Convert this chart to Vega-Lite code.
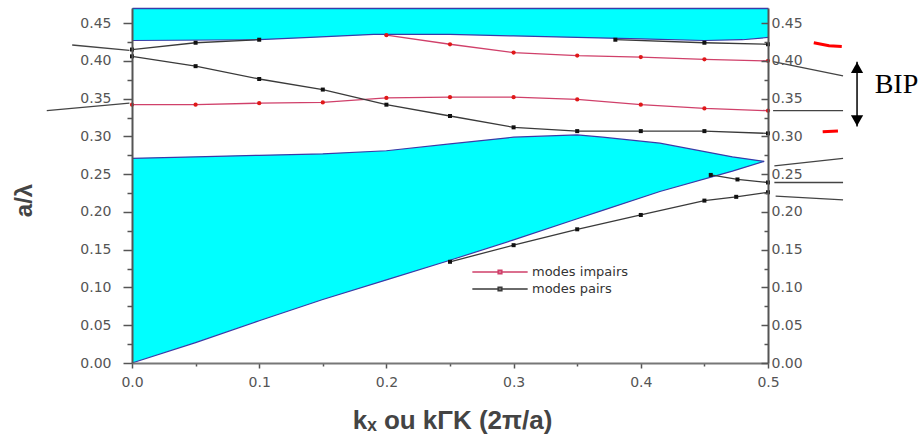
{
  "$schema": "https://vega.github.io/schema/vega-lite/v6.json",
  "width": 636,
  "height": 355,
  "autosize": {"type": "none"},
  "padding": {"left": 132, "top": 8, "right": 156, "bottom": 72},
  "background": "white",
  "config": {"view": {"stroke": null}},
  "datasets": {
    "bande_basse": [
      {"k": 0, "lo": 0, "hi": 0.271},
      {"k": 0.05, "lo": 0.027, "hi": 0.273},
      {"k": 0.1, "lo": 0.056, "hi": 0.275},
      {"k": 0.15, "lo": 0.084, "hi": 0.277},
      {"k": 0.2, "lo": 0.110, "hi": 0.281},
      {"k": 0.25, "lo": 0.136, "hi": 0.290},
      {"k": 0.3, "lo": 0.163, "hi": 0.299},
      {"k": 0.35, "lo": 0.191, "hi": 0.302},
      {"k": 0.37, "lo": 0.202, "hi": 0.299},
      {"k": 0.415, "lo": 0.227, "hi": 0.291},
      {"k": 0.472, "lo": 0.254, "hi": 0.273},
      {"k": 0.497, "lo": 0.267, "hi": 0.267}
    ],
    "bande_haute": [
      {"k": 0, "lo": 0.427},
      {"k": 0.1, "lo": 0.428},
      {"k": 0.14, "lo": 0.431},
      {"k": 0.19, "lo": 0.435},
      {"k": 0.25, "lo": 0.435},
      {"k": 0.3, "lo": 0.433},
      {"k": 0.35, "lo": 0.431},
      {"k": 0.4, "lo": 0.429},
      {"k": 0.45, "lo": 0.427},
      {"k": 0.48, "lo": 0.428},
      {"k": 0.5, "lo": 0.431}
    ],
    "modes": [
      {"branche": "i1", "type": "modes impairs", "k": 0, "f": 0.342},
      {"branche": "i1", "type": "modes impairs", "k": 0.05, "f": 0.342},
      {"branche": "i1", "type": "modes impairs", "k": 0.1, "f": 0.344},
      {"branche": "i1", "type": "modes impairs", "k": 0.15, "f": 0.345},
      {"branche": "i1", "type": "modes impairs", "k": 0.2, "f": 0.351},
      {"branche": "i1", "type": "modes impairs", "k": 0.25, "f": 0.352},
      {"branche": "i1", "type": "modes impairs", "k": 0.3, "f": 0.352},
      {"branche": "i1", "type": "modes impairs", "k": 0.35, "f": 0.349},
      {"branche": "i1", "type": "modes impairs", "k": 0.4, "f": 0.342},
      {"branche": "i1", "type": "modes impairs", "k": 0.45, "f": 0.337},
      {"branche": "i1", "type": "modes impairs", "k": 0.5, "f": 0.334},
      {"branche": "i2", "type": "modes impairs", "k": 0.2, "f": 0.434},
      {"branche": "i2", "type": "modes impairs", "k": 0.25, "f": 0.422},
      {"branche": "i2", "type": "modes impairs", "k": 0.3, "f": 0.411},
      {"branche": "i2", "type": "modes impairs", "k": 0.35, "f": 0.407},
      {"branche": "i2", "type": "modes impairs", "k": 0.4, "f": 0.405},
      {"branche": "i2", "type": "modes impairs", "k": 0.45, "f": 0.402},
      {"branche": "i2", "type": "modes impairs", "k": 0.5, "f": 0.400},
      {"branche": "p1", "type": "modes pairs", "k": 0, "f": 0.406},
      {"branche": "p1", "type": "modes pairs", "k": 0.05, "f": 0.393},
      {"branche": "p1", "type": "modes pairs", "k": 0.1, "f": 0.376},
      {"branche": "p1", "type": "modes pairs", "k": 0.15, "f": 0.362},
      {"branche": "p1", "type": "modes pairs", "k": 0.2, "f": 0.342},
      {"branche": "p1", "type": "modes pairs", "k": 0.25, "f": 0.327},
      {"branche": "p1", "type": "modes pairs", "k": 0.3, "f": 0.312},
      {"branche": "p1", "type": "modes pairs", "k": 0.35, "f": 0.307},
      {"branche": "p1", "type": "modes pairs", "k": 0.4, "f": 0.307},
      {"branche": "p1", "type": "modes pairs", "k": 0.45, "f": 0.307},
      {"branche": "p1", "type": "modes pairs", "k": 0.5, "f": 0.304},
      {"branche": "p2", "type": "modes pairs", "k": 0, "f": 0.415},
      {"branche": "p2", "type": "modes pairs", "k": 0.05, "f": 0.424},
      {"branche": "p2", "type": "modes pairs", "k": 0.1, "f": 0.428},
      {"branche": "p3", "type": "modes pairs", "k": 0.38, "f": 0.428},
      {"branche": "p3", "type": "modes pairs", "k": 0.45, "f": 0.424},
      {"branche": "p3", "type": "modes pairs", "k": 0.5, "f": 0.422},
      {"branche": "p4", "type": "modes pairs", "k": 0.25, "f": 0.134},
      {"branche": "p4", "type": "modes pairs", "k": 0.3, "f": 0.156},
      {"branche": "p4", "type": "modes pairs", "k": 0.35, "f": 0.177},
      {"branche": "p4", "type": "modes pairs", "k": 0.4, "f": 0.196},
      {"branche": "p4", "type": "modes pairs", "k": 0.45, "f": 0.215},
      {"branche": "p4", "type": "modes pairs", "k": 0.475, "f": 0.220},
      {"branche": "p4", "type": "modes pairs", "k": 0.5, "f": 0.226},
      {"branche": "p5", "type": "modes pairs", "k": 0.455, "f": 0.249},
      {"branche": "p5", "type": "modes pairs", "k": 0.476, "f": 0.243},
      {"branche": "p5", "type": "modes pairs", "k": 0.5, "f": 0.239}
    ],
    "prolongements": [
      {"seg": "g1", "type": "modes pairs", "k": -0.047, "f": 0.421},
      {"seg": "g1", "type": "modes pairs", "k": -0.002, "f": 0.414},
      {"seg": "g2", "type": "modes pairs", "k": -0.067, "f": 0.334},
      {"seg": "g2", "type": "modes pairs", "k": -0.002, "f": 0.344},
      {"seg": "d1", "type": "modes pairs", "k": 0.504, "f": 0.399},
      {"seg": "d1", "type": "modes pairs", "k": 0.559, "f": 0.380},
      {"seg": "d2", "type": "modes pairs", "k": 0.504, "f": 0.334},
      {"seg": "d2", "type": "modes pairs", "k": 0.559, "f": 0.334},
      {"seg": "d3", "type": "modes pairs", "k": 0.505, "f": 0.261},
      {"seg": "d3", "type": "modes pairs", "k": 0.559, "f": 0.271},
      {"seg": "d4", "type": "modes pairs", "k": 0.505, "f": 0.239},
      {"seg": "d4", "type": "modes pairs", "k": 0.559, "f": 0.239},
      {"seg": "d5", "type": "modes pairs", "k": 0.506, "f": 0.221},
      {"seg": "d5", "type": "modes pairs", "k": 0.559, "f": 0.216},
      {"seg": "r1", "type": "modes impairs", "k": 0.536, "f": 0.424},
      {"seg": "r1", "type": "modes impairs", "k": 0.548, "f": 0.420},
      {"seg": "r1", "type": "modes impairs", "k": 0.558, "f": 0.419},
      {"seg": "r2", "type": "modes impairs", "k": 0.543, "f": 0.306},
      {"seg": "r2", "type": "modes impairs", "k": 0.555, "f": 0.307}
    ],
    "bip": [
      {"k": 0.570, "f_haut": 0.399, "f_bas": 0.313, "k_texte": 0.601, "f_texte": 0.368, "texte": "BIP"}
    ]
  },
  "resolve": {"axis": {"x": "independent", "y": "independent"}},
  "layer": [
    {
      "data": {"name": "bande_basse"},
      "mark": {"type": "area", "color": "#00ffff", "opacity": 1},
      "encoding": {
        "x": {
          "field": "k", "type": "quantitative",
          "scale": {"domain": [0, 0.5], "nice": false, "zero": false},
          "axis": {
            "orient": "bottom", "zindex": 1,
            "values": [0, 0.05, 0.1, 0.15, 0.2, 0.25, 0.3, 0.35, 0.4, 0.45, 0.5],
            "labelExpr": "abs(datum.value*10 - round(datum.value*10)) < 0.001 ? format(datum.value, '.1f') : ''",
            "tickSize": {"condition": {"test": "abs(datum.value*10 - round(datum.value*10)) < 0.001", "value": 5}, "value": 3},
            "tickColor": "#555", "tickWidth": 1.5,
            "domainColor": "#777", "domainWidth": 2,
            "labelFont": "DejaVu Sans", "labelFontSize": 14, "labelColor": "#555", "labelPadding": 7,
            "labelFlush": false, "labelOverlap": false,
            "grid": false,
            "title": "kₓ ou kΓK (2π/a)",
            "titleFont": "Liberation Sans", "titleFontSize": 26, "titleFontWeight": "bold", "titleColor": "#444",
            "titleX": 320, "titleY": 65, "titleAlign": "center", "titleBaseline": "alphabetic"
          }
        },
        "y": {
          "field": "lo", "type": "quantitative",
          "scale": {"domain": [0, 0.47], "nice": false, "zero": false},
          "axis": {
            "orient": "left", "zindex": 1,
            "values": [0, 0.025, 0.05, 0.075, 0.1, 0.125, 0.15, 0.175, 0.2, 0.225, 0.25, 0.275, 0.3, 0.325, 0.35, 0.375, 0.4, 0.425, 0.45],
            "labelExpr": "abs(datum.value*20 - round(datum.value*20)) < 0.001 ? format(datum.value, '.2f') : ''",
            "tickSize": {"condition": {"test": "abs(datum.value*20 - round(datum.value*20)) < 0.001", "value": 9}, "value": 5},
            "tickColor": "#555", "tickWidth": 1.5,
            "domainColor": "#555", "domainWidth": 2,
            "labelFont": "DejaVu Sans", "labelFontSize": 14, "labelColor": "#555", "labelPadding": 12,
            "labelFlush": false, "labelOverlap": false,
            "grid": false,
            "title": "a/λ",
            "titleFont": "Liberation Sans", "titleFontSize": 24, "titleFontWeight": "bold", "titleColor": "#444",
            "titleX": -108, "titleY": 192, "titleAlign": "center", "titleBaseline": "middle", "titleAngle": -90
          }
        },
        "y2": {"field": "hi"}
      }
    },
    {
      "data": {"name": "bande_haute"},
      "mark": {"type": "area", "color": "#00ffff", "opacity": 1},
      "encoding": {
        "x": {
          "field": "k", "type": "quantitative",
          "scale": {"domain": [0, 0.5], "nice": false, "zero": false},
          "axis": {"orient": "top", "zindex": 1, "ticks": false, "labels": false, "title": null, "grid": false, "domainColor": "#3a3aa8", "domainWidth": 1.5}
        },
        "y": {
          "field": "lo", "type": "quantitative",
          "scale": {"domain": [0, 0.47], "nice": false, "zero": false},
          "axis": {
            "orient": "right", "zindex": 1,
            "values": [0, 0.025, 0.05, 0.075, 0.1, 0.125, 0.15, 0.175, 0.2, 0.225, 0.25, 0.275, 0.3, 0.325, 0.35, 0.375, 0.4, 0.425, 0.45],
            "labelExpr": "abs(datum.value*20 - round(datum.value*20)) < 0.001 ? format(datum.value, '.2f') : ''",
            "tickSize": {"condition": {"test": "abs(datum.value*20 - round(datum.value*20)) < 0.001", "value": -7}, "value": -4},
            "tickColor": "#555", "tickWidth": 1.5,
            "domainColor": "#555", "domainWidth": 2,
            "labelFont": "DejaVu Sans", "labelFontSize": 14, "labelColor": "#555", "labelPadding": 10,
            "labelFlush": false, "labelOverlap": false,
            "grid": false, "title": null
          }
        },
        "y2": {"datum": 0.47}
      }
    },
    {
      "data": {"name": "bande_basse"},
      "mark": {"type": "line", "color": "#3a3aa8", "strokeWidth": 1.2},
      "encoding": {
        "x": {"field": "k", "type": "quantitative", "axis": null},
        "y": {"field": "lo", "type": "quantitative", "axis": null}
      }
    },
    {
      "data": {"name": "bande_basse"},
      "mark": {"type": "line", "color": "#3a3aa8", "strokeWidth": 1.2},
      "encoding": {
        "x": {"field": "k", "type": "quantitative", "axis": null},
        "y": {"field": "hi", "type": "quantitative", "axis": null}
      }
    },
    {
      "data": {"name": "bande_haute"},
      "mark": {"type": "line", "color": "#3a3aa8", "strokeWidth": 1.2},
      "encoding": {
        "x": {"field": "k", "type": "quantitative", "axis": null},
        "y": {"field": "lo", "type": "quantitative", "axis": null}
      }
    },
    {
      "data": {"name": "modes"},
      "mark": {"type": "line", "strokeWidth": 1.3},
      "encoding": {
        "x": {"field": "k", "type": "quantitative", "axis": null},
        "y": {"field": "f", "type": "quantitative", "axis": null},
        "detail": {"field": "branche"},
        "color": {
          "field": "type", "type": "nominal",
          "scale": {"domain": ["modes impairs", "modes pairs"], "range": ["#d0406a", "#3a3a3a"]},
          "legend": {
            "orient": "none", "legendX": 358, "legendY": 254,
            "title": null, "padding": 0, "rowPadding": 0,
            "symbolType": "M-3,0H3M-0.2,-0.2H0.2V0.2H-0.2Z",
            "symbolSize": 340, "symbolStrokeWidth": 1.5,
            "labelFont": "DejaVu Sans", "labelFontSize": 13, "labelColor": "#333", "labelOffset": 22
          }
        }
      }
    },
    {
      "data": {"name": "modes"},
      "transform": [{"filter": "datum.type == 'modes impairs'"}],
      "mark": {"type": "point", "shape": "circle", "filled": true, "color": "#e01818", "size": 18, "opacity": 1},
      "encoding": {
        "x": {"field": "k", "type": "quantitative", "axis": null},
        "y": {"field": "f", "type": "quantitative", "axis": null}
      }
    },
    {
      "data": {"name": "modes"},
      "transform": [{"filter": "datum.type == 'modes pairs'"}],
      "mark": {"type": "point", "shape": "square", "filled": true, "color": "#111111", "size": 16, "opacity": 1},
      "encoding": {
        "x": {"field": "k", "type": "quantitative", "axis": null},
        "y": {"field": "f", "type": "quantitative", "axis": null}
      }
    },
    {
      "data": {"name": "prolongements"},
      "transform": [{"filter": "datum.type == 'modes pairs'"}],
      "mark": {"type": "line", "color": "#444444", "strokeWidth": 1.3},
      "encoding": {
        "x": {"field": "k", "type": "quantitative", "axis": null},
        "y": {"field": "f", "type": "quantitative", "axis": null},
        "detail": {"field": "seg"}
      }
    },
    {
      "data": {"name": "prolongements"},
      "transform": [{"filter": "datum.type == 'modes impairs'"}],
      "mark": {"type": "line", "color": "#ff0000", "strokeWidth": 3},
      "encoding": {
        "x": {"field": "k", "type": "quantitative", "axis": null},
        "y": {"field": "f", "type": "quantitative", "axis": null},
        "detail": {"field": "seg"}
      }
    },
    {
      "data": {"name": "bip"},
      "mark": {"type": "rule", "color": "#000000", "strokeWidth": 1.5},
      "encoding": {
        "x": {"field": "k", "type": "quantitative", "axis": null},
        "y": {"field": "f_bas", "type": "quantitative", "axis": null},
        "y2": {"field": "f_haut"}
      }
    },
    {
      "data": {"name": "bip"},
      "mark": {"type": "point", "shape": "triangle-up", "filled": true, "color": "#000000", "size": 150, "opacity": 1, "yOffset": 6},
      "encoding": {
        "x": {"field": "k", "type": "quantitative", "axis": null},
        "y": {"field": "f_haut", "type": "quantitative", "axis": null}
      }
    },
    {
      "data": {"name": "bip"},
      "mark": {"type": "point", "shape": "triangle-down", "filled": true, "color": "#000000", "size": 150, "opacity": 1, "yOffset": -6},
      "encoding": {
        "x": {"field": "k", "type": "quantitative", "axis": null},
        "y": {"field": "f_bas", "type": "quantitative", "axis": null}
      }
    },
    {
      "data": {"name": "bip"},
      "mark": {"type": "text", "font": "Liberation Serif", "fontSize": 28, "color": "#000000", "align": "center", "baseline": "middle"},
      "encoding": {
        "x": {"field": "k_texte", "type": "quantitative", "axis": null},
        "y": {"field": "f_texte", "type": "quantitative", "axis": null},
        "text": {"field": "texte"}
      }
    }
  ]
}
